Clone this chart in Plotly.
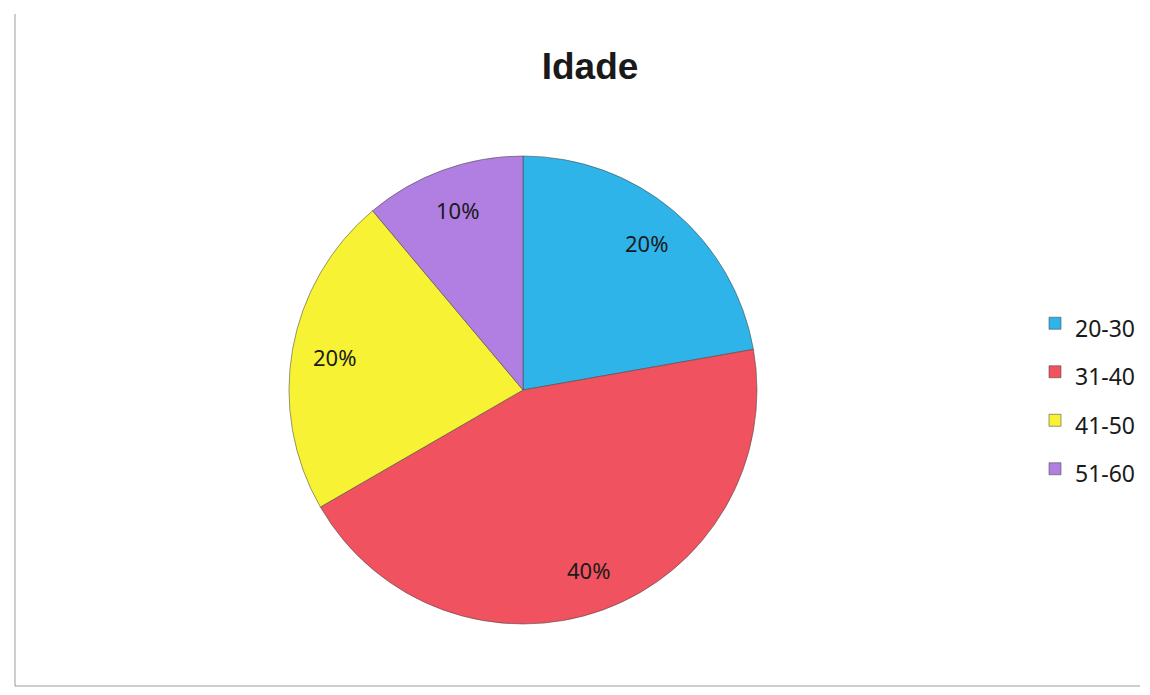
import math
import plotly.graph_objects as go

# Data
categories = ["20-30", "31-40", "41-50", "51-60"]
values = [20, 40, 20, 10]
colors = ["#2FB4EA", "#F1525F", "#F7F334", "#B17FE2"]
title_text = "Idade"

W, H = 1150, 695
OFF = 8  # page body margin
cx, cy, R = 523 - OFF, 390 - OFF, 234  # pie centre and radius in figure pixels

dom_x = [(cx - R) / W, (cx + R) / W]
dom_y = [(H - (cy + R)) / H, (H - (cy - R)) / H]

legend_labels = [f'<span style="font-size:23px">{c}</span>' for c in categories]

fig = go.Figure(
    go.Pie(
        labels=legend_labels,
        values=values,
        sort=False,
        direction="clockwise",
        rotation=0,
        marker=dict(colors=colors, line=dict(color="rgba(70,70,70,0.55)", width=1)),
        textinfo="none",
        hoverinfo="label+value",
        domain=dict(x=dom_x, y=dom_y),
    )
)

# value labels placed at the middle angle of each slice (computed from the data)
total = sum(values)
annotations = []
cum = 0
for v in values:
    mid = (cum + v / 2) / total * 2 * math.pi
    cum += v
    px = cx + 0.82 * R * math.sin(mid)
    py = cy - 0.82 * R * math.cos(mid)
    annotations.append(
        dict(
            x=px / W, y=1 - py / H, xref="paper", yref="paper",
            text=f"{v}%", showarrow=False,
            font=dict(family="Noto Sans", size=22, color="#1A1A1A"),
            xanchor="center", yanchor="middle",
        )
    )

fig.update_layout(
    width=W, height=H,
    margin=dict(l=0, r=0, t=0, b=0),
    paper_bgcolor="white",
    plot_bgcolor="white",
    title=dict(
        text=f"<b>{title_text}</b>",
        x=(590 - OFF) / W, xref="paper", xanchor="center",
        y=1 - (66 - OFF) / H, yref="container", yanchor="middle",
        font=dict(family="Liberation Sans", size=37, color="#1A1A1A"),
    ),
    legend=dict(
        x=(1035 - OFF) / W, xanchor="left",
        y=1 - (294 - OFF) / H, yanchor="top",
        font=dict(family="Noto Sans", size=35, color="#1A1A1A"),
        bgcolor="rgba(0,0,0,0)",
    ),
    annotations=annotations,
    shapes=[
        dict(type="line", xref="paper", yref="paper",
             x0=(15 - OFF) / W, x1=(15 - OFF) / W,
             y0=1 - (14 - OFF) / H, y1=1 - (686 - OFF) / H,
             line=dict(color="rgba(90,90,90,0.6)", width=1)),
        dict(type="line", xref="paper", yref="paper",
             x0=(15 - OFF) / W, x1=(1140 - OFF) / W,
             y0=1 - (686 - OFF) / H, y1=1 - (686 - OFF) / H,
             line=dict(color="rgba(90,90,90,0.6)", width=1)),
    ],
)

fig.write_html("out.html")
